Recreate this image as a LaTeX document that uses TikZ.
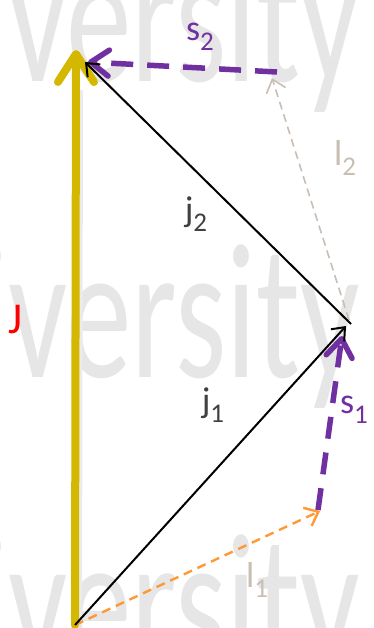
\documentclass[tikz,border=0pt]{standalone}
\usepackage{graphicx}
\usepackage{fontspec}
\setmainfont{Carlito}
\usepackage{tikz}
\usetikzlibrary{arrows.meta}

\definecolor{jgold}{RGB}{212,184,0}
\definecolor{spurple}{RGB}{112,48,160}
\definecolor{lorange}{RGB}{255,153,51}
\definecolor{ltaupe}{RGB}{200,190,180}
\definecolor{jgray}{RGB}{64,64,64}
\definecolor{wmark}{RGB}{230,230,230}

% vector label: letter with lowered digit
\newcommand{\veclab}[2]{#1\raisebox{-10pt}{\fontsize{27}{27}\selectfont #2}}
\newcommand{\wmtext}{\fontsize{193}{193}\selectfont\scalebox{0.68}[1]{\llap{Uni}versity}}

\begin{document}
\begin{tikzpicture}[x=1pt,y=-1pt,
    bigJ/.style={line width=8pt,jgold,line cap=round,
      -{Straight Barb[length=28pt,width=36pt,line cap=round,line join=round]}},
    jvec/.style={line width=2pt,black,
      -{Straight Barb[length=11pt,width=18pt]}},
    lvec/.style={line width=2.4pt,dash pattern=on 9pt off 6pt,
      -{Straight Barb[length=12pt,width=20pt]}},
    svec/.style={line width=5.5pt,spurple,dash pattern=on 22pt off 14pt,
      -{Straight Barb[length=18pt,width=26pt,line cap=round,line join=round]}},
    lab/.style={font=\fontsize{36}{36}\selectfont,inner sep=0pt}]
  \useasboundingbox (0,0) rectangle (374,628);

  % watermark rows in the background
  \begin{scope}
    \clip (0,0) rectangle (374,628);
    \foreach \yb [count=\i] in {82,377,667}
      \node[wmark,anchor=base west,inner sep=0pt] (wm\i) at (8,\yb) {\wmtext};
  \end{scope}

  % end points of the vectors
  \coordinate (O)       at (75,625);
  \coordinate (Jtip)    at (76,50);
  \coordinate (j1tip)   at (346,326);
  \coordinate (j2start) at (351,324);
  \coordinate (j2tip)   at (85,62);
  \coordinate (l1tip)   at (320,511);
  \coordinate (s1start) at (318,510);
  \coordinate (s1tip)   at (342,336);
  \coordinate (l2start) at (349,320);
  \coordinate (l2tip)   at (272,78);
  \coordinate (s2start) at (277,72);
  \coordinate (s2tip)   at (88,62);

  % total J (soft shadow, then the arrow)
  \draw[line width=10pt,black!8] ([xshift=2pt]O) -- ([xshift=2pt,yshift=-40pt]Jtip);
  \draw[bigJ] (O) -- (Jtip);

  % orbital / spin steps
  \draw[lvec,lorange] (O) -- (l1tip);
  \draw[svec] (s1start) -- (s1tip);
  \draw[lvec,ltaupe,line width=1.6pt,dash pattern=on 8pt off 5pt] (l2start) -- (l2tip);
  \draw[svec] (s2start) -- (s2tip);

  % j vectors
  \draw[jvec] (O) -- (j1tip);
  \draw[jvec] (j2start) -- (j2tip);

  % labels
  \node[lab,red,font=\fontsize{44}{44}\selectfont] (labJ) at (16,320) {J};
  \node[lab,jgray]   (labj1) at (213,405) {\veclab{j}{1}};
  \node[lab,jgray]   (labj2) at (196,214) {\veclab{j}{2}};
  \node[lab,spurple] (labs1) at (354,410) {\veclab{s}{1}};
  \node[lab,spurple] (labs2) at (200,37)  {\veclab{s}{2}};
  \node[lab,ltaupe]  (labl1) at (257,580) {\veclab{l}{1}};
  \node[lab,ltaupe]  (labl2) at (345,158) {\veclab{l}{2}};
\end{tikzpicture}
\end{document}
